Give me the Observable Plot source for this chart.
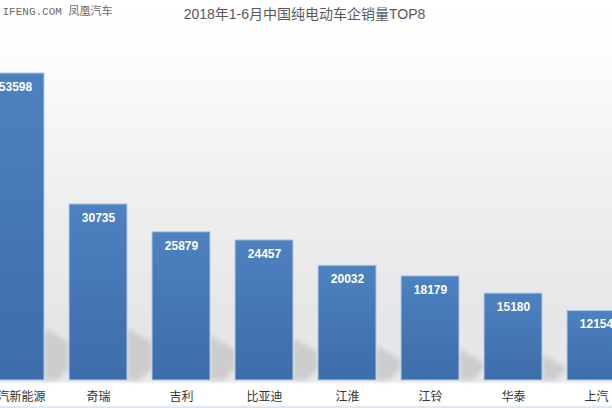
<!DOCTYPE html>
<html><head><meta charset="utf-8">
<script src="https://cdn.jsdelivr.net/npm/d3@7"></script>
<script src="https://cdn.jsdelivr.net/npm/@observablehq/plot@0.6"></script>
<style>html,body{margin:0;padding:0;overflow:hidden;background:#fff}</style>
</head><body><div id="chart"></div>
<script>
const title = "2018年1-6月中国纯电动车企销量TOP8";
const watermark = "IFENG.COM 凤凰汽车";
const companies = ["北汽新能源", "奇瑞", "吉利", "比亚迪", "江淮", "江铃", "华泰", "上汽"];
const sales = [53598, 30735, 25879, 24457, 20032, 18179, 15180, 12154];
const data = companies.map((c, i) => ({company: c, sales: sales[i]}));

const sansFont = '"Liberation Sans", Arial, "Noto Sans CJK SC", sans-serif';

function defsMark() {
  const defs = d3.create("svg:defs");
  const g = defs.append("linearGradient").attr("id", "barGrad")
    .attr("x1", 0).attr("y1", 0).attr("x2", 0).attr("y2", 1);
  g.append("stop").attr("offset", "0%").attr("stop-color", "#4d81bf");
  g.append("stop").attr("offset", "100%").attr("stop-color", "#3d6dab");
  const f = defs.append("filter").attr("id", "shadowBlur")
    .attr("x", "-50%").attr("y", "-50%").attr("width", "200%").attr("height", "200%");
  f.append("feGaussianBlur").attr("stdDeviation", 2.5);
  return defs.node();
}

function shadowMark(index, scales) {
  const x = scales.x, y = scales.y;
  const step = x(companies[1]) - x(companies[0]);
  const bw = x.bandwidth ? x.bandwidth() : step * 0.7;
  const gap = step - bw;
  const yb = y(0);
  const g = d3.create("svg:g").attr("filter", "url(#shadowBlur)");
  data.forEach(d => {
    const xr = x(d.company) + bw;
    const h = yb - y(d.sales);
    const s = Math.min(0.3 * h, 52);
    const pts = [
      [xr, yb - s],
      [xr + gap, yb - s + 14],
      [xr + gap, yb - 12],
      [xr + gap * 0.55, yb],
      [xr, yb]
    ];
    g.append("polygon").attr("points", pts.map(p => p.join(",")).join(" "))
      .attr("fill", "#c6c6c6").attr("fill-opacity", 0.8);
  });
  return g.node();
}

const chart = Plot.plot({
  width: 612,
  height: 408,
  marginTop: 0,
  marginBottom: 28,
  marginLeft: 0,
  marginRight: 0,
  style: {
    fontFamily: sansFont,
    overflow: "hidden",
    background: "linear-gradient(to bottom, #ffffff 0px, #fdfdfd 50px, #f0f0f0 180px, #e6e6e6 320px, #e8e8e8 381px, #ffffff 384px, #ffffff 405px, #dfe5ee 407px)"
  },
  x: {domain: companies, range: [-26.5, 637.5], paddingInner: 0.3, paddingOuter: 0.15, axis: null},
  y: {domain: [0, 66340], axis: null},
  marks: [
    defsMark,
    shadowMark,
    Plot.barY(data, {x: "company", y: "sales", fill: "url(#barGrad)", stroke: "#b3cbe8", strokeWidth: 1}),
    Plot.text(data, {x: "company", y: "sales", text: d => String(d.sales), dy: 13.5, lineAnchor: "middle",
      fill: "white", fontWeight: "bold", fontSize: 12, fontFamily: sansFont}),
    Plot.text(data, {x: "company", y: () => 0, text: "company", dy: 17, lineAnchor: "middle",
      fill: "#333333", fontSize: 12, fontFamily: sansFont}),
    Plot.text([title], {frameAnchor: "top", dx: -2, dy: 14, lineAnchor: "middle",
      fill: "#595959", fontSize: 14, fontFamily: sansFont}),
    Plot.text([watermark], {frameAnchor: "top-left", dx: 2, dy: 11, lineAnchor: "middle", textAnchor: "start",
      fill: "#6a6a6a", fontSize: 11, fontFamily: '"Liberation Mono", "Noto Sans CJK SC", monospace'})
  ]
});
document.getElementById("chart").appendChild(chart);
</script>
</body></html>
